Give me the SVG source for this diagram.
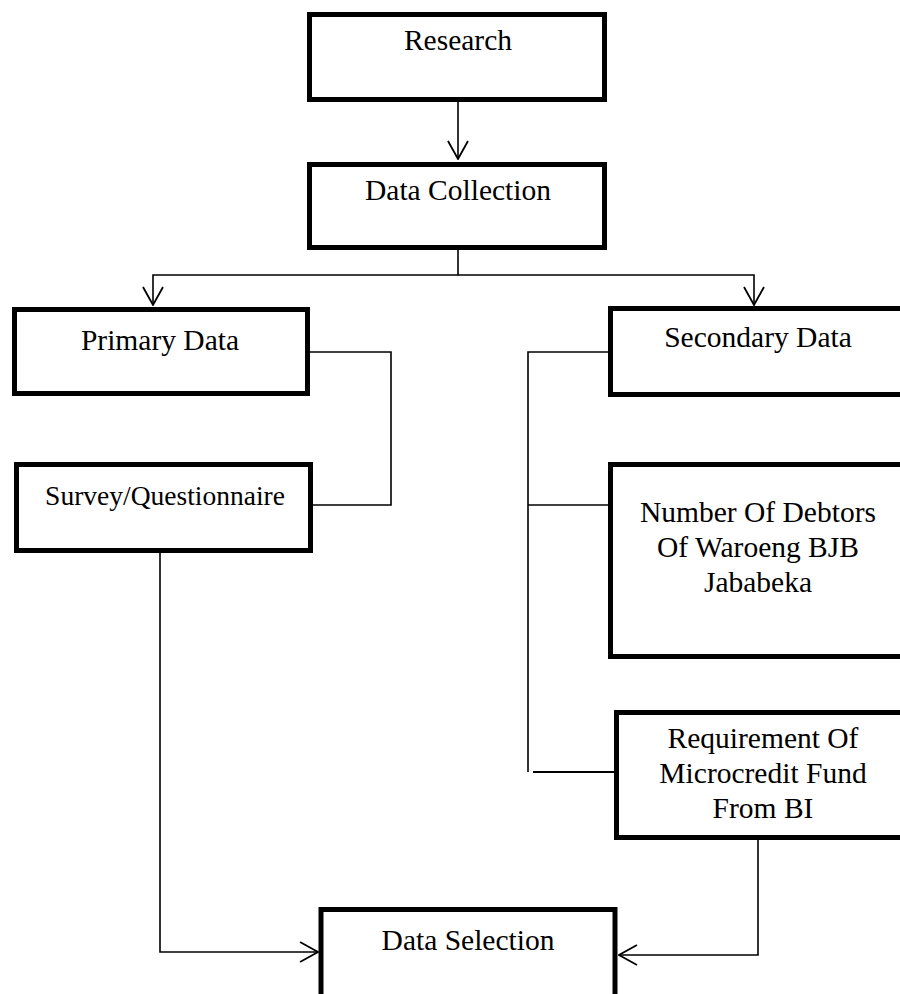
<svg xmlns="http://www.w3.org/2000/svg" width="900" height="994" viewBox="0 0 900 994">
<defs>
<style>
.box{fill:#fff;stroke:#000;stroke-width:5}
.t{font-family:"Liberation Serif","Times New Roman",serif;font-size:29.5px;fill:#000;text-anchor:middle}
.ts{font-family:"Liberation Serif","Times New Roman",serif;font-size:27.5px;fill:#000;text-anchor:middle}
.c{fill:none;stroke:#000;stroke-width:1.6}
</style>
<marker id="ah" viewBox="0 0 20 22" refX="19" refY="11" markerWidth="20" markerHeight="22" markerUnits="userSpaceOnUse" orient="auto">
<path d="M1,1 L19,11 L1,21" fill="none" stroke="#000" stroke-width="1.8"/>
</marker>
</defs>
<rect width="900" height="994" fill="#fff"/>
<g id="connectors">
<path class="c" d="M458,102 V159" marker-end="url(#ah)"/>
<path class="c" d="M458,250 V275 H153 V305" marker-end="url(#ah)"/>
<path class="c" d="M458,275 H754 V305" marker-end="url(#ah)"/>
<path class="c" d="M310,352 H391 V505 H313"/>
<path class="c" d="M608,352 H528 V772"/>
<path class="c" d="M528,505 H608"/>
<path class="c" d="M533,772 H614" style="stroke-width:2.2"/>
<path class="c" d="M160,553 V952 H318" marker-end="url(#ah)"/>
<path class="c" d="M758,840 V955 H619" marker-end="url(#ah)"/>
</g>
<g id="research">
<rect class="box" x="309.5" y="14.5" width="295" height="85"/>
<text class="t" x="458" y="50">Research</text>
</g>
<g id="data-collection">
<rect class="box" x="309.5" y="164.5" width="295" height="83"/>
<text class="t" x="458" y="200">Data Collection</text>
</g>
<g id="primary-data">
<rect class="box" x="14.5" y="309.5" width="293" height="84"/>
<text class="t" x="160" y="350">Primary Data</text>
</g>
<g id="survey">
<rect class="box" x="16.5" y="464.5" width="294" height="86"/>
<text class="ts" x="165" y="505">Survey/Questionnaire</text>
</g>
<g id="secondary-data">
<rect class="box" x="610.5" y="308.5" width="300" height="86"/>
<text class="t" x="758" y="347">Secondary Data</text>
</g>
<g id="debtors">
<rect class="box" x="610.5" y="464.5" width="300" height="192"/>
<text class="t" x="758" y="522">Number Of Debtors</text>
<text class="t" x="758" y="557">Of Waroeng BJB</text>
<text class="t" x="758" y="592">Jababeka</text>
</g>
<g id="requirement">
<rect class="box" x="616.5" y="712.5" width="300" height="125"/>
<text class="t" x="763" y="748">Requirement Of</text>
<text class="t" x="763" y="783">Microcredit Fund</text>
<text class="t" x="763" y="818">From BI</text>
</g>
<g id="data-selection">
<rect class="box" x="321" y="909.5" width="294" height="100"/>
<text class="t" x="468" y="950">Data Selection</text>
</g>
</svg>
